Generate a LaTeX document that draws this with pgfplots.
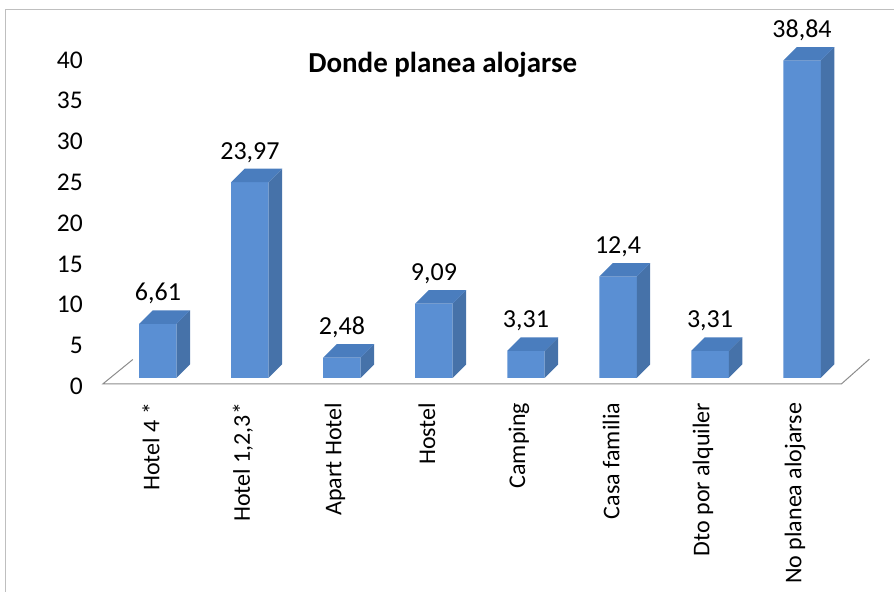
\documentclass[border=0pt]{standalone}
\usepackage{fontspec}
\setmainfont{Carlito}
\usepackage{pgfplots}
\usepackage{pgfplotstable}
\pgfplotsset{compat=1.18}

\definecolor{barfront}{HTML}{5A8FD3}
\definecolor{bartop}{HTML}{4A7DBE}
\definecolor{barside}{HTML}{4672A9}
\definecolor{floorline}{HTML}{8C8C8C}
\definecolor{frameline}{HTML}{BFBFBF}

\pgfplotstableread{
x y lab
0 6.61 6,61
1 23.97 23,97
2 2.48 2,48
3 9.09 9,09
4 3.31 3,31
5 12.4 12,4
6 3.31 3,31
7 38.84 38,84
}\alojamiento

% side and top face of a bar, drawn at the top of the front face
\pgfdeclareplotmark{cubeside}{%
  \pgfmathsetmacro\barlow{-\rawy*8.17}%
  \pgfmathsetmacro\barlowback{13.5-\rawy*8.17}%
  \pgfsetfillcolor{barside}%
  \pgfpathmoveto{\pgfpoint{18.75pt}{0pt}}%
  \pgfpathlineto{\pgfpoint{32.25pt}{13.5pt}}%
  \pgfpathlineto{\pgfpoint{32.25pt}{\barlowback pt}}%
  \pgfpathlineto{\pgfpoint{18.75pt}{\barlow pt}}%
  \pgfpathclose
  \pgfusepath{fill}%
  \pgfsetfillcolor{bartop}%
  \pgfpathmoveto{\pgfpoint{-18.75pt}{0pt}}%
  \pgfpathlineto{\pgfpoint{18.75pt}{0pt}}%
  \pgfpathlineto{\pgfpoint{32.25pt}{13.5pt}}%
  \pgfpathlineto{\pgfpoint{-5.25pt}{13.5pt}}%
  \pgfpathclose
  \pgfusepath{fill}%
}

\begin{document}
\begin{tikzpicture}
\begin{axis}[
  x=92.07pt, y=8.17pt,
  xmin=-1.7161, xmax=7.9939,
  ymin=-26.19, ymax=46.27,
  clip=false,
  axis line style={draw=none},
  tick style={draw=none},
  xtick={0,...,7},
  xticklabels={Hotel 4 *, {Hotel 1,2,3*}, Apart Hotel, Hostel, Camping,
    Casa familia, Dto por alquiler, No planea alojarse},
  xticklabel style={font=\fontsize{24}{28}\selectfont, yshift=189pt,
    xshift=-7pt, rotate=90, anchor=east, inner sep=0pt},
  ytick={-1.06,3.94,8.94,13.94,18.94,23.94,28.94,33.94,38.94},
  yticklabels={0,5,10,15,20,25,30,35,40},
  yticklabel style={font=\fontsize{25.5}{30}\selectfont, anchor=east,
    inner sep=0pt, xshift=83pt},
  title={Donde planea alojarse},
  title style={font=\bfseries\fontsize{29}{34}\selectfont,
    at={(rel axis cs:0.4955,0.8666)}, anchor=base},
]
  % chart frame and floor
  \draw[frameline, line width=1pt] (rel axis cs:0.0056,0) -- (rel axis cs:0.0056,0.9831)
    -- (rel axis cs:1,0.9831);
  \draw[floorline, line width=1pt] (axis cs:-0.272,2.25) -- (axis cs:-0.597,-0.734)
    -- (axis cs:7.429,-0.734) -- (axis cs:7.733,2.3);

  % front faces
  \addplot[ybar, bar width=37.5pt, bar shift=0pt, fill=barfront, draw=none]
    table[x=x, y=y] {\alojamiento};

  % depth faces and value labels
  \addplot[only marks, mark=cubeside,
    visualization depends on={rawy \as \rawy},
    point meta=explicit symbolic,
    nodes near coords={\pgfplotspointmeta},
    nodes near coords style={font=\fontsize{26}{30}\selectfont,
      anchor=base, yshift=23pt, inner sep=0pt}]
    table[x=x, y=y, meta=lab] {\alojamiento};
\end{axis}
\end{tikzpicture}
\end{document}
